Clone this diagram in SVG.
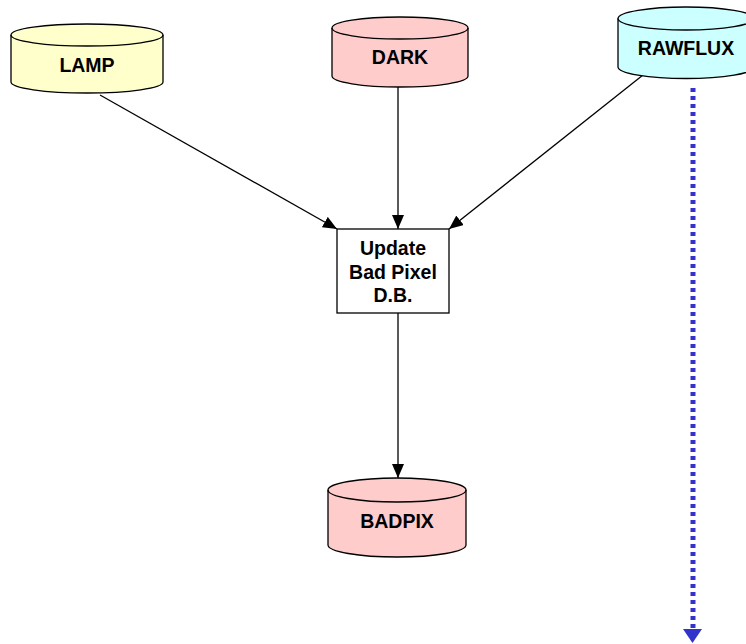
<svg xmlns="http://www.w3.org/2000/svg" width="746" height="644" viewBox="0 0 746 644">
  <style>
    .db { stroke: #000; stroke-width: 1.3; }
    .box { fill: #fff; stroke: #000; stroke-width: 1.3; }
    .lbl { font-family: "Liberation Sans", Arial, sans-serif; font-weight: bold; font-size: 19.5px; fill: #000; text-anchor: middle; }
    .edge { stroke: #000; stroke-width: 1.3; fill: none; marker-end: url(#arrow); }
    .flow { stroke: #3333CC; stroke-width: 5; stroke-dasharray: 4 4; fill: none; }
  </style>
  <defs>
    <marker id="arrow" viewBox="0 0 14 12" refX="14" refY="6" markerWidth="14" markerHeight="12" markerUnits="userSpaceOnUse" orient="auto">
      <path d="M0,0 L14,6 L0,12 Z" fill="#000"/>
    </marker>
  </defs>

  <rect width="746" height="644" fill="#fff"/>

  <g id="connectors">
    <line class="edge" x1="100" y1="95" x2="337" y2="229"/>
    <line class="edge" x1="398" y1="87" x2="398" y2="229"/>
    <line class="edge" x1="643" y1="75" x2="449" y2="229"/>
    <line class="edge" x1="398" y1="313" x2="398" y2="478"/>
    <line class="flow" x1="693" y1="88" x2="693" y2="630"/>
    <path d="M683,629 L702,629 L692.5,643 Z" fill="#3333CC"/>
  </g>

  <g id="lamp">
    <path class="db" fill="#FFFFCC" d="M11,35 L11,82 A76,11 0 0 0 163,82 L163,35 A76,11 0 0 0 11,35 Z"/>
    <path class="db" fill="none" d="M11,35 A76,11 0 0 0 163,35"/>
    <text class="lbl" x="87" y="72">LAMP</text>
  </g>

  <g id="dark">
    <path class="db" fill="#FFCCCC" d="M332,28 L332,76 A68,11 0 0 0 468,76 L468,28 A68,11 0 0 0 332,28 Z"/>
    <path class="db" fill="none" d="M332,28 A68,11 0 0 0 468,28"/>
    <text class="lbl" x="400" y="64">DARK</text>
  </g>

  <g id="rawflux">
    <path class="db" fill="#CCFFFF" d="M618,18.5 L618,67 A68,11.5 0 0 0 754,67 L754,18.5 A68,11.5 0 0 0 618,18.5 Z"/>
    <path class="db" fill="none" d="M618,18.5 A68,11.5 0 0 0 754,18.5"/>
    <text class="lbl" x="686" y="55">RAWFLUX</text>
  </g>

  <g id="update">
    <rect class="box" x="337" y="229" width="112" height="84"/>
    <text class="lbl" x="393" y="255">Update</text>
    <text class="lbl" x="393" y="278.5">Bad Pixel</text>
    <text class="lbl" x="393" y="302">D.B.</text>
  </g>

  <g id="badpix">
    <path class="db" fill="#FFCCCC" d="M328,490 L328,545 A69,12 0 0 0 466,545 L466,490 A69,12 0 0 0 328,490 Z"/>
    <path class="db" fill="none" d="M328,490 A69,12 0 0 0 466,490"/>
    <text class="lbl" x="397" y="528">BADPIX</text>
  </g>
</svg>
